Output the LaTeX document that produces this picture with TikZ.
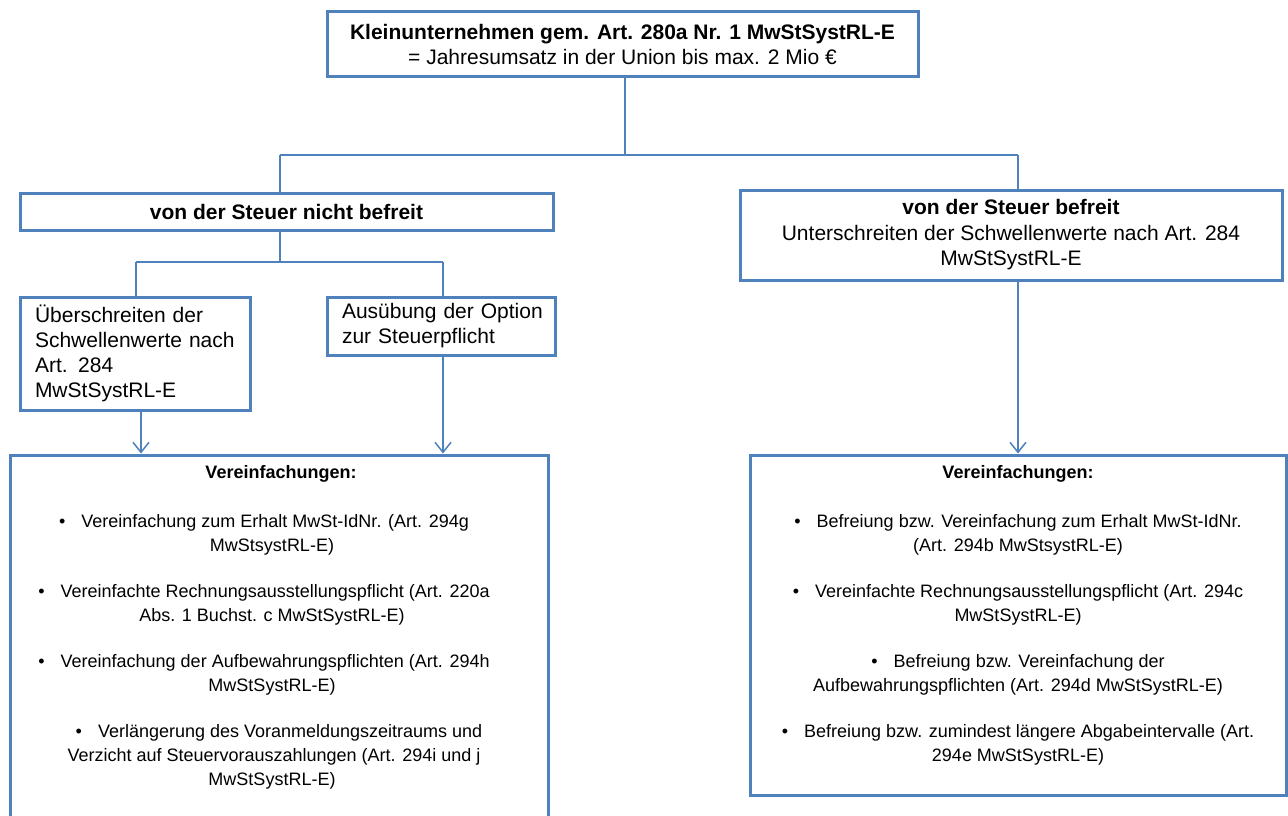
\documentclass[tikz,border=0pt]{standalone}
\usepackage{fontspec}
\setmainfont{Liberation Sans}
\usetikzlibrary{arrows.meta}
\definecolor{boxblue}{HTML}{4F81BD}
\newcommand{\padr}[1]{\rule{#1}{0pt}}
\begin{document}
\begin{tikzpicture}[x=1pt,y=-1pt,
  box/.style={draw=boxblue, line width=3pt, fill=white, inner sep=0pt, align=center,
    font=\fontsize{21}{25.5}\selectfont},
  leftbox/.style={draw=boxblue, line width=3pt, fill=white, inner xsep=15pt, inner ysep=0pt,
    align=left, font=\fontsize{21}{25}\selectfont},
  listtext/.style={inner sep=0pt, align=center, font=\fontsize{18}{24}\selectfont},
  conn/.style={draw=boxblue, line width=1.5pt},
  arr/.style={conn, -{Straight Barb[length=10pt,width=16pt,line width=1.5pt]}}]
\clip (0,0) rectangle (1288,816);
\fill[white] (0,0) rectangle (1288,816);

% boxes
\node[box, minimum width=591pt, minimum height=65pt] (top) at (622.5,44.5)
  {\textbf{Kleinunternehmen gem. Art. 280a Nr. 1 MwStSystRL-E}\\= Jahresumsatz in der Union bis max. 2 Mio €};
\node[box, minimum width=533pt, minimum height=37pt] (nicht) at (286.5,211.5)
  {\textbf{von der Steuer nicht befreit}};
\node[box, minimum width=542pt, minimum height=90pt] (befreit) at (1011,235)
  {\textbf{von der Steuer befreit}\\Unterschreiten der Schwellenwerte nach Art. 284\\MwStSystRL-E};
\node[leftbox, text width=200pt, minimum height=113pt] (ueber) at (135,353.5)
  {\mbox{Überschreiten der}\\\mbox{Schwellenwerte nach}\\\mbox{Art. 284}\\\mbox{MwStSystRL-E}};
\node[leftbox, text width=198pt, minimum height=58pt] (option) at (441,326)
  {\mbox{Ausübung der Option}\\\mbox{zur Steuerpflicht}};
\node[box, minimum width=538pt, minimum height=375pt] (L) at (279,642.5) {};
\node[box, minimum width=536pt, minimum height=340pt] (R) at (1018,625) {};

\node[listtext, anchor=north] (Ltext) at (281,465) {%
\textbf{Vereinfachungen:}\\[25pt]
•\hspace{16pt}Vereinfachung zum Erhalt MwSt-IdNr. (Art. 294g\padr{34pt}\\
MwStsystRL-E)\padr{18pt}\\[22pt]
•\hspace{16pt}Vereinfachte Rechnungsausstellungspflicht (Art. 220a\padr{34pt}\\
Abs. 1 Buchst. c MwStSystRL-E)\padr{18pt}\\[22pt]
•\hspace{16pt}Vereinfachung der Aufbewahrungspflichten (Art. 294h\padr{34pt}\\
MwStSystRL-E)\padr{18pt}\\[22pt]
•\hspace{16pt}Verlängerung des Voranmeldungszeitraums und\padr{4pt}\\
Verzicht auf Steuervorauszahlungen (Art. 294i und j\padr{14pt}\\
MwStSystRL-E)\padr{18pt}};

\node[listtext, anchor=north] (Rtext) at (1018,465) {%
\textbf{Vereinfachungen:}\\[25pt]
•\hspace{16pt}Befreiung bzw. Vereinfachung zum Erhalt MwSt-IdNr.\\
(Art. 294b MwStsystRL-E)\\[22pt]
•\hspace{16pt}Vereinfachte Rechnungsausstellungspflicht (Art. 294c\\
MwStSystRL-E)\\[22pt]
•\hspace{16pt}Befreiung bzw. Vereinfachung der\\
Aufbewahrungspflichten (Art. 294d MwStSystRL-E)\\[22pt]
•\hspace{16pt}Befreiung bzw. zumindest längere Abgabeintervalle (Art.\\
294e MwStSystRL-E)};

% junction coordinates
\coordinate (hl) at (280,155);
\coordinate (hr) at (1018,155);
\coordinate (h2l) at (136,262);
\coordinate (h2r) at (443,262);
\coordinate (ax1) at (141,0);

% connectors
\draw[conn] (top.south -| 625,0) -- (hl -| 625,0);
\draw[conn] (hl) -- (hr);
\draw[conn] (hl) -- (hl |- nicht.north);
\draw[conn] (hr) -- (hr |- befreit.north);
\draw[conn] (hl |- nicht.south) -- (hl |- h2l);
\draw[conn] (h2l) -- (h2r);
\draw[conn] (h2l) -- (h2l |- ueber.north);
\draw[conn] (h2r) -- (h2r |- option.north);
\draw[arr] (ueber.south -| ax1) -- (L.north -| ax1);
\draw[arr] (option.south -| h2r) -- (L.north -| h2r);
\draw[arr] (befreit.south -| hr) -- (R.north -| hr);
\end{tikzpicture}
\end{document}
